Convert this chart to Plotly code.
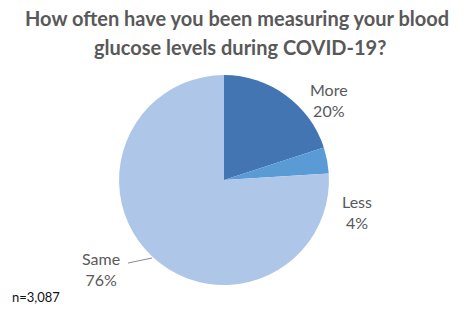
import plotly.graph_objects as go

labels = ["More", "Less", "Same"]
values = [20, 4, 76]
colors = ["#4375b2", "#5b9bd5", "#aec6e7"]
title_lines = ["How often have you been measuring your blood",
               "glucose levels during COVID-19?"]
note_text = "n=3,087"

W, H = 471, 309

fig = go.Figure(go.Pie(
    labels=labels, values=values, sort=False, direction="clockwise", rotation=0,
    marker=dict(colors=colors, line=dict(width=0)),
    textinfo="none", hoverinfo="label+percent",
    domain=dict(x=[0.2527, 0.6985], y=[0.0777, 0.757]),
    showlegend=False,
))

label_pos = {"More": (329, 100), "Less": (357, 212), "Same": (101, 269)}
for lab, val in zip(labels, values):
    x, y = label_pos[lab]
    fig.add_annotation(x=x / W, y=1 - y / H, xref="paper", yref="paper",
                       text=f"{lab}<br>{val}%", showarrow=False,
                       font=dict(family="Lato", size=16, color="#595959"),
                       xanchor="center", yanchor="middle", align="center")

fig.add_shape(type="line", xref="paper", yref="paper",
              x0=128 / W, y0=1 - 263 / H, x1=152 / W, y1=1 - 258 / H,
              line=dict(color="#8c8c8c", width=1))

fig.add_annotation(x=10 / W, y=1 - 297 / H, xref="paper", yref="paper",
                   text=note_text, showarrow=False, xanchor="left", yanchor="middle",
                   font=dict(family="Lato", size=13, color="#111111"))

for line, (cx, cy) in zip(title_lines, [(237, 18), (240, 47)]):
    fig.add_annotation(x=cx / W, y=1 - cy / H, xref="paper", yref="paper",
                       text=line, showarrow=False, xanchor="center", yanchor="middle",
                       font=dict(family="Lato", size=20, color="#595959", weight="bold"))

fig.update_layout(
    width=W, height=H,
    margin=dict(l=0, r=0, t=0, b=0),
    paper_bgcolor="white", plot_bgcolor="white",
)

fig.write_html("out.html", config={"displayModeBar": False},
               post_script="document.body.style.margin='0';document.body.style.overflow='hidden';")
